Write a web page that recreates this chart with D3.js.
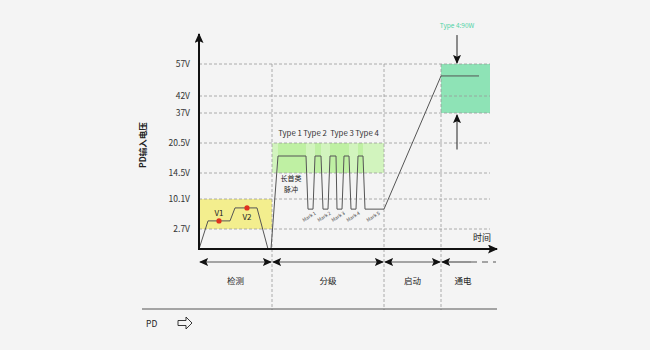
<!DOCTYPE html>
<html>
<head>
<meta charset="utf-8">
<script src="https://cdn.jsdelivr.net/npm/d3@7"></script>
<style>
  html, body { margin: 0; padding: 0; background: #f4f4f4; }
  svg { display: block; font-family: "Noto Sans CJK SC", "Noto Sans", sans-serif; }
</style>
</head>
<body>
<div id="chart"></div>
<script>
// voltage ticks (V)
const yTicks = [2.7, 10.1, 14.5, 20.5, 37, 42, 57];
const yTickLabels = ['2.7V', '10.1V', '14.5V', '20.5V', '37V', '42V', '57V'];

// phases along the time axis (arbitrary time units)
const phaseNames = ['检测', '分级', '启动', '通电'];
const phaseBounds = [0, 73, 185, 242, 297];

// detection waveform [t, V]
const detectWave = [[0, 0], [9, 4.7], [31, 4.7], [36, 7.9], [58, 7.9], [69, 0]];
const detectDots = [
    { name: 'V1', t: 20, v: 4.7, labelBelow: false },
    { name: 'V2', t: 48, v: 7.9, labelBelow: true }
];

// classification + startup + power waveform [t, V]
const classWave = [
    [72, 0], [79, 17.9], [107, 17.9], [109, 7.6], [114, 7.6],
    [116, 17.9], [122, 17.9], [124, 7.6], [129, 7.6],
    [131, 17.9], [137, 17.9], [138, 7.6], [143, 7.6],
    [145, 17.9], [150, 17.9], [152, 7.6], [157, 7.6],
    [159, 17.9], [164, 17.9], [166, 7.6], [185, 7.6],
    [242, 51.4], [280, 51.4]
];

const typeLabels = ['Type 1', 'Type 2', 'Type 3', 'Type 4'];
const typeLabelT = [91, 116, 143, 168];
const markLabels = ['Mark 1', 'Mark 2', 'Mark 3', 'Mark 4', 'Mark 5'];
const markT = [111, 126, 140, 155, 175];
const typeStripes = [[79, 107], [116, 122], [131, 150], [159, 164]];

// highlighted zones [t0, t1, v0, v1]
const detectZone = [0, 73, 2.7, 10.1];
const classZone = [73, 185, 14.5, 20.5];
const powerZone = [242, 291, 37, 57];

const powerArrowT = 258;
const powerLabel = 'Type 4:90W';

const width = 650, height = 350;
const svg = d3.select('#chart').append('svg')
    .attr('width', width)
    .attr('height', height);

const x = d3.scaleLinear().domain([0, 297]).range([199, 496]);
const y = d3.scaleLinear()
    .domain([0, 2.7, 10.1, 14.5, 20.5, 37, 42, 57, 71])
    .range([249, 229, 199, 173, 143, 113, 96, 64, 34]);

const defs = svg.append('defs');
function arrowMarker(id, w, h) {
    defs.append('marker')
        .attr('id', id)
        .attr('viewBox', '0 0 10 10')
        .attr('refX', 9).attr('refY', 5)
        .attr('markerWidth', w).attr('markerHeight', h)
        .attr('markerUnits', 'userSpaceOnUse')
        .attr('orient', 'auto-start-reverse')
        .attr('preserveAspectRatio', 'none')
        .append('path')
        .attr('d', 'M0,0 L10,5 L0,10 L2,5 Z')
        .attr('fill', '#111');
}
arrowMarker('axisArrow', 10, 9);
arrowMarker('smallArrow', 9, 8);

// zones
function zone(z, fill) {
    svg.append('rect')
        .attr('x', x(z[0])).attr('y', y(z[3]))
        .attr('width', x(z[1]) - x(z[0]))
        .attr('height', y(z[2]) - y(z[3]))
        .attr('fill', fill);
}
zone(detectZone, '#f3ee8e');
zone(classZone, '#d2f4be');
typeStripes.forEach(s => zone([s[0], s[1], classZone[2], classZone[3]], '#bff0a3'));
zone(powerZone, '#8ee3b6');

// grid
const gridG = svg.append('g')
    .attr('stroke', '#9a9a9a')
    .attr('stroke-width', 0.8)
    .attr('stroke-dasharray', '3,2');
yTicks.forEach(v => {
    gridG.append('line')
        .attr('x1', x(0)).attr('x2', x(291))
        .attr('y1', y(v)).attr('y2', y(v));
});
phaseBounds.slice(1, 4).forEach(t => {
    gridG.append('line')
        .attr('x1', x(t)).attr('x2', x(t))
        .attr('y1', y(57)).attr('y2', 310);
});

// tick labels
svg.append('g').selectAll('text')
    .data(yTicks)
    .join('text')
    .attr('x', x(0) - 9)
    .attr('y', d => y(d))
    .attr('dy', '0.35em')
    .attr('text-anchor', 'end')
    .attr('font-size', 8.5)
    .attr('fill', '#333')
    .text((d, i) => yTickLabels[i]);

// waveforms
const line = d3.line().x(d => x(d[0])).y(d => y(d[1]));
[detectWave, classWave].forEach(w => {
    svg.append('path')
        .datum(w)
        .attr('fill', 'none')
        .attr('stroke', '#555')
        .attr('stroke-width', 1)
        .attr('d', line);
});

// V1 / V2 dots
detectDots.forEach(d => {
    svg.append('circle')
        .attr('cx', x(d.t)).attr('cy', y(d.v))
        .attr('r', 2.6)
        .attr('fill', '#e0321e');
    svg.append('text')
        .attr('x', x(d.t)).attr('y', y(d.v) + (d.labelBelow ? 12 : -5))
        .attr('text-anchor', 'middle')
        .attr('font-size', 8)
        .attr('fill', '#222')
        .text(d.name);
});

// type labels
svg.append('g').selectAll('text')
    .data(typeLabels)
    .join('text')
    .attr('x', (d, i) => x(typeLabelT[i]))
    .attr('y', y(20.5) - 7)
    .attr('text-anchor', 'middle')
    .attr('font-size', 7.8)
    .attr('fill', '#333')
    .text(d => d);

// mark labels
svg.append('g').selectAll('text')
    .data(markLabels)
    .join('text')
    .attr('transform', (d, i) => `translate(${x(markT[i])},${y(7.6) + 9}) rotate(-32)`)
    .attr('text-anchor', 'middle')
    .attr('font-size', 4.8)
    .attr('fill', '#444')
    .text(d => d);

// long first class pulse label
svg.append('text')
    .attr('x', x(92)).attr('y', y(14.5) + 8)
    .attr('text-anchor', 'middle')
    .attr('font-size', 7)
    .attr('fill', '#222')
    .selectAll('tspan')
    .data(['长首类', '脉冲'])
    .join('tspan')
    .attr('x', x(92))
    .attr('dy', (d, i) => i === 0 ? 0 : 11)
    .text(d => d);

// power arrows + label
svg.append('line')
    .attr('x1', x(powerArrowT)).attr('x2', x(powerArrowT))
    .attr('y1', y(70.5)).attr('y2', y(57) - 1)
    .attr('stroke', '#222').attr('stroke-width', 1)
    .attr('marker-end', 'url(#smallArrow)');
svg.append('line')
    .attr('x1', x(powerArrowT)).attr('x2', x(powerArrowT))
    .attr('y1', y(19.2)).attr('y2', y(37) + 2)
    .attr('stroke', '#222').attr('stroke-width', 1)
    .attr('marker-end', 'url(#smallArrow)');
svg.append('text')
    .attr('x', x(powerArrowT)).attr('y', 28)
    .attr('text-anchor', 'middle')
    .attr('font-size', 6.5)
    .attr('fill', '#4fd3a6')
    .text(powerLabel);

// axes
svg.append('line')
    .attr('x1', x(0)).attr('x2', x(0))
    .attr('y1', y(0) + 1).attr('y2', y(71))
    .attr('stroke', '#111').attr('stroke-width', 2)
    .attr('marker-end', 'url(#axisArrow)');
svg.append('line')
    .attr('x1', x(0) - 1).attr('x2', x(298))
    .attr('y1', y(0)).attr('y2', y(0))
    .attr('stroke', '#111').attr('stroke-width', 2)
    .attr('marker-end', 'url(#axisArrow)');

svg.append('text')
    .attr('transform', `translate(146,145) rotate(-90)`)
    .attr('text-anchor', 'middle')
    .attr('font-size', 8.5)
    .attr('font-weight', 'bold')
    .attr('fill', '#222')
    .text('PD输入电压');

svg.append('text')
    .attr('x', x(283)).attr('y', y(0) - 8)
    .attr('text-anchor', 'middle')
    .attr('font-size', 9)
    .attr('fill', '#222')
    .text('时间');

// phase arrows
const phaseY = 262;
phaseNames.forEach((name, i) => {
    const t0 = phaseBounds[i], t1 = phaseBounds[i + 1];
    const last = i === phaseNames.length - 1;
    svg.append('line')
        .attr('x1', x(t0) + 1).attr('x2', last ? x(t0 + 30) : x(t1) - 1)
        .attr('y1', phaseY).attr('y2', phaseY)
        .attr('stroke', '#555').attr('stroke-width', 1.2)
        .attr('marker-start', 'url(#smallArrow)')
        .attr('marker-end', last ? null : 'url(#smallArrow)');
    if (last) {
        svg.append('line')
            .attr('x1', x(t0 + 30)).attr('x2', x(t1))
            .attr('y1', phaseY).attr('y2', phaseY)
            .attr('stroke', '#555').attr('stroke-width', 1.2)
            .attr('stroke-dasharray', '6,5');
    }
    svg.append('text')
        .attr('x', x(last ? t0 + 22 : (t0 + t1) / 2))
        .attr('y', 284)
        .attr('text-anchor', 'middle')
        .attr('font-size', 8.5)
        .attr('fill', '#222')
        .text(name);
});

// PD row
svg.append('line')
    .attr('x1', 142).attr('x2', x(298))
    .attr('y1', 309).attr('y2', 309)
    .attr('stroke', '#555').attr('stroke-width', 1.2);
svg.append('text')
    .attr('x', 146).attr('y', 327)
    .attr('font-size', 8.5)
    .attr('fill', '#222')
    .text('PD');
svg.append('path')
    .attr('transform', 'translate(178,323)')
    .attr('d', 'M0,-2.5 L8,-2.5 L8,-6 L14,0 L8,6 L8,2.5 L0,2.5 Z')
    .attr('fill', 'none')
    .attr('stroke', '#222')
    .attr('stroke-width', 0.9);
</script>
</body>
</html>
